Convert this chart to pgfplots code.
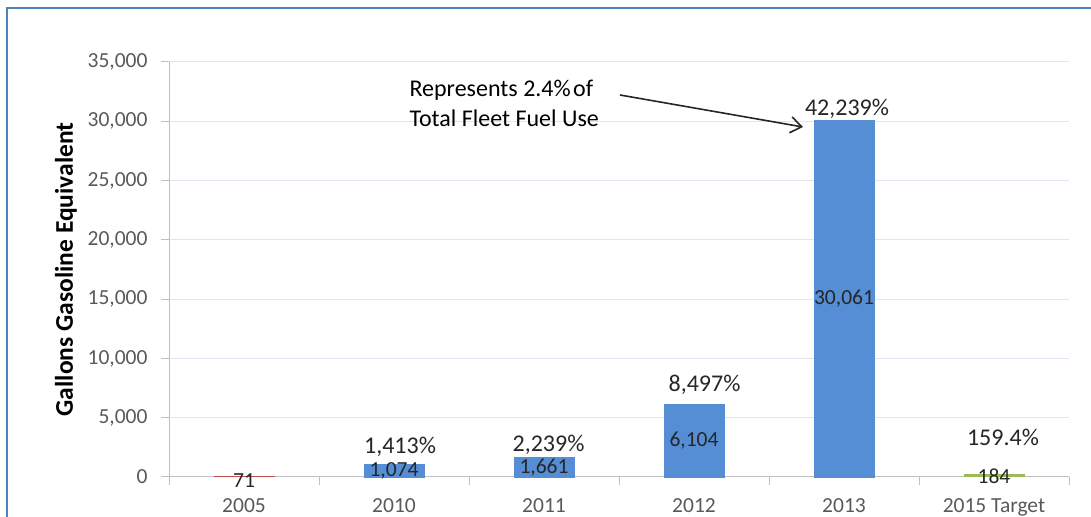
\documentclass[border=0pt]{standalone}
\usepackage{fontspec}
\setmainfont{Carlito}
\usepackage{pgfplots}
\pgfplotsset{compat=1.18}
\usetikzlibrary{arrows.meta}

\definecolor{barblue}{RGB}{85,142,213}
\definecolor{barred}{RGB}{192,80,77}
\definecolor{bargreen}{RGB}{155,187,89}
\definecolor{frameblue}{RGB}{79,129,189}
\definecolor{gridc}{RGB}{222,230,242}
\definecolor{axisgray}{RGB}{191,191,191}
\definecolor{ticktext}{RGB}{89,89,89}
\definecolor{labeltext}{RGB}{38,38,38}

% fuel use by year (gallons gasoline equivalent)
\pgfplotstableread{
x y
1 1074
2 1661
3 6104
4 30061
}\fuelblue

% value labels, set at the middle of each bar
\pgfplotstableread{
x y lab
0 -300 71
1 537 1,074
2 830 1,661
3 3052 6,104
4 15030 30,061
5 92 184
}\valuelabels

% growth labels above the bars
\pgfplotstableread{
x y lab
1.04 2530 1,413
2.03 2700 2,239
3.07 7760 8,497
4.02 31050 42,239
5.06 3375 159.4
}\growthlabels

\begin{document}
\begin{tikzpicture}
\useasboundingbox (0bp,0bp) rectangle (1091bp,517bp);
\draw[frameblue, line width=2bp] (7bp,-5bp) -- (7bp,509bp) -- (1100bp,509bp);
\begin{axis}[
  at={(169bp,40bp)}, anchor=south west,
  scale only axis, width=900bp, height=415bp,
  xmin=-0.5, xmax=5.5, ymin=0, ymax=35000,
  clip=false,
  axis x line*=bottom, axis y line*=left,
  axis line style={axisgray, line width=1bp},
  xtick={0,...,5},
  xticklabels={2005,2010,2011,2012,2013,2015 Target},
  minor xtick={-0.5,0.5,...,5.5},
  ytick={0,5000,...,35000},
  tick align=outside,
  major tick length=8bp,
  minor tick length=8bp,
  major x tick style={draw=none},
  minor x tick style={axisgray, line width=1bp},
  y tick style={axisgray, line width=1bp},
  ymajorgrids, major grid style={gridc, line width=1bp},
  scaled y ticks=false,
  /pgf/number format/fixed,
  /pgf/number format/1000 sep={,},
  /pgf/number format/assume math mode=true,
  ticklabel style={font=\fontsize{21.5bp}{25bp}\selectfont, text=ticktext},
  xticklabel style={yshift=-10bp},
  yticklabel style={xshift=-10bp},
  ylabel={Gallons Gasoline Equivalent},
  ylabel style={font=\bfseries\fontsize{25.5bp}{30bp}\selectfont,
    at={(axis description cs:-0.1144,0.5)}, anchor=center, text=black},
]
\addplot[ybar, bar width=60bp, bar shift=0pt, fill=barred, draw=barred, line width=1bp]
  coordinates {(0,71)};
\addplot[ybar, bar width=60bp, bar shift=0pt, fill=barblue, draw=barblue, line width=0.5bp]
  table[x=x, y=y] {\fuelblue};
\addplot[ybar, bar width=60bp, bar shift=0pt, fill=bargreen, draw=bargreen, line width=1bp]
  coordinates {(5,184)};

\addplot[draw=none, mark=none, nodes near coords, point meta=explicit symbolic,
  every node near coord/.append style={anchor=center, text=labeltext,
    font=\fontsize{21.5bp}{25bp}\selectfont}]
  table[x=x, y=y, meta=lab] {\valuelabels};
\addplot[draw=none, mark=none, nodes near coords={\pgfplotspointmeta\%},
  point meta=explicit symbolic,
  every node near coord/.append style={anchor=center, text=labeltext,
    font=\fontsize{24bp}{28bp}\selectfont}]
  table[x=x, y=y, meta=lab] {\growthlabels};
\end{axis}
\node[anchor=west, align=left, text=black, font=\fontsize{24bp}{30bp}\selectfont]
  at (406bp,414bp) {Represents 2.4\%\kern0.1em of\\Total Fleet Fuel Use};
\draw[-{Straight Barb[length=11bp,width=16bp]}, line width=1.6bp, black!85]
  (620bp,422bp) -- (803bp,390bp);
\end{tikzpicture}
\end{document}
